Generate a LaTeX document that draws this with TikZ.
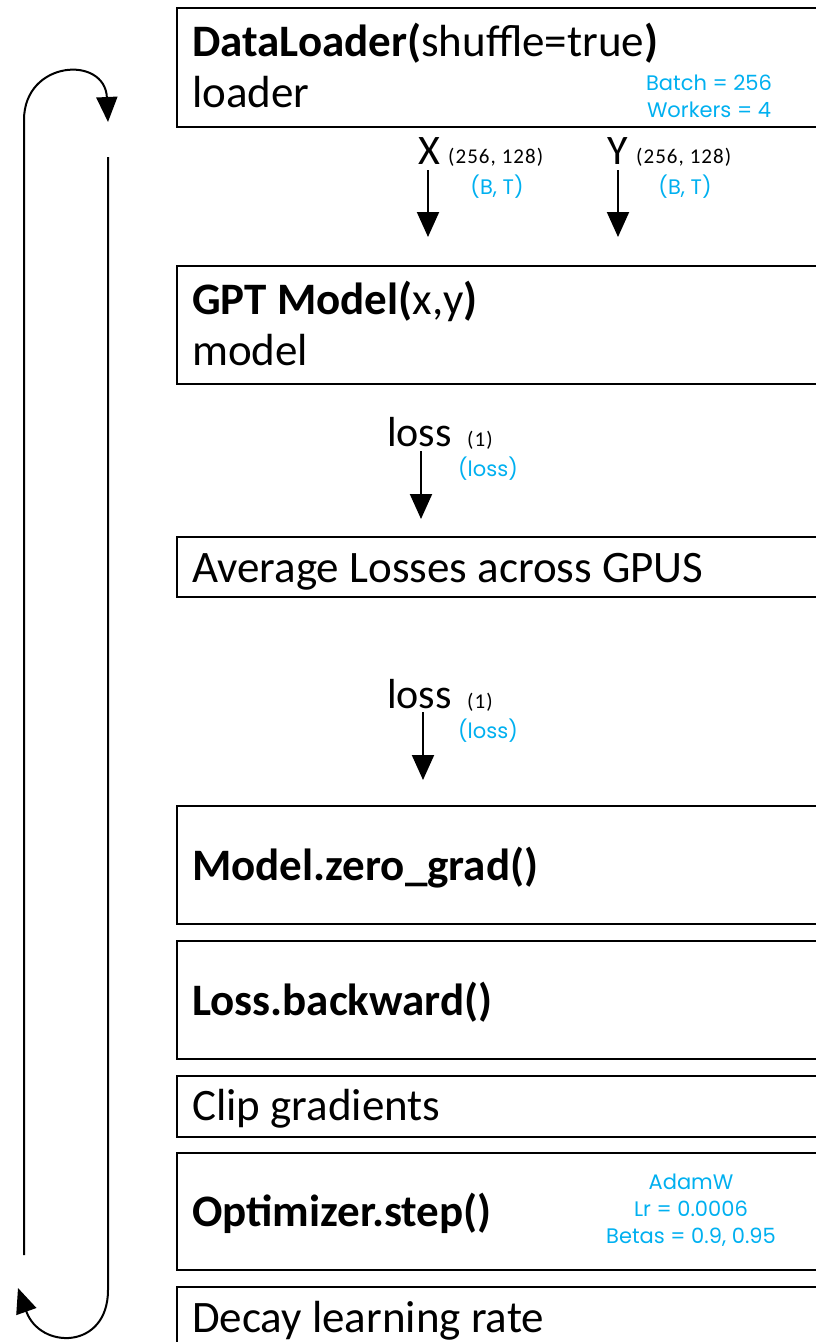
\documentclass[tikz,border=0pt]{standalone}
\usepackage{fontspec}
\setmainfont{Carlito}
\newfontfamily\gothic{Poppins}
\usetikzlibrary{arrows.meta}
\definecolor{hint}{RGB}{0,176,240}
\tikzset{
  box/.style={draw, line width=2.2pt, rectangle, inner sep=0pt, outer sep=0pt,
    anchor=north west, minimum width=700pt},
  big/.style={font=\fontsize{45}{54}\selectfont, inner sep=0pt, anchor=base west},
  lbl/.style={font=\fontsize{42}{50}\selectfont, inner sep=0pt, anchor=base west},
  dims/.style={font=\fontsize{21}{24}\selectfont\addfontfeature{LetterSpace=5}, inner sep=0pt, anchor=base west},
  note/.style={font=\gothic\fontsize{21}{27}\selectfont, text=hint, inner sep=0pt, align=center},
  flow/.style={line width=2pt, -{Triangle[width=22pt,length=25pt]}},
  loop/.style={line width=2pt, -{Triangle[width=21pt,length=25pt]}},
}
\begin{document}
\begin{tikzpicture}[x=1pt,y=-1pt]
\clip (0,0) rectangle (816,1342);
\fill[white] (0,0) rectangle (816,1342);

% stage boxes (they run past the right and bottom edges)
\node[box, minimum height=119pt] (loaderbox) at (177,8) {};
\node[box, minimum height=118pt] (modelbox) at (177,266) {};
\node[box, minimum height=60pt]  (avgbox)    at (177,537) {};
\node[box, minimum height=118pt] (zerobox)   at (177,806) {};
\node[box, minimum height=118pt] (backbox)   at (177,941) {};
\node[box, minimum height=61pt]  (clipbox)   at (177,1076) {};
\node[box, minimum height=117pt] (stepbox)   at (177,1153) {};
\node[box, minimum height=100pt] (decaybox)  at (177,1287) {};

% box texts
\node[big] (loadertitle) at (192,56) {\textbf{DataLoader(}shuffle=true\textbf{)}};
\node[big] (loadername)  at (192,107) {loader};
\node[note] (loadernote) at (709,96) {Batch = 256\\Workers = 4};
\node[big] (modeltitle)  at (192,314) {\textbf{GPT Model(}x,y\textbf{)}};
\node[big] (modelname)   at (192,365) {model};
\node[big] (avgtext)     at (192,582) {Average Losses across GPUS};
\node[big] (zerotext)    at (192,880) {\textbf{Model.zero\_grad()}};
\node[big] (backtext)    at (192,1015) {\textbf{Loss.backward()}};
\node[big] (cliptext)    at (192,1120) {Clip gradients};
\node[big] (steptext)    at (192,1226) {\textbf{Optimizer.step()}};
\node[note] (stepnote)   at (691,1210) {AdamW\\Lr = 0.0006\\Betas = 0.9, 0.95};
\node[big] (decaytext)   at (192,1332) {Decay learning rate};

% X and Y batches
\node[lbl, anchor=base] (xname) at (429,164) {X};
\node[dims] (xdims) at (448,163) {(256, 128)};
\node[note] (xshape) at (497,187) {(B, T)};
\coordinate (xfrom) at (428,170);
\coordinate (xto) at (428,237);
\draw[flow] (xfrom) -- (xto);

\node[lbl, anchor=base] (yname) at (618,164) {Y};
\node[dims] (ydims) at (636,163) {(256, 128)};
\node[note] (yshape) at (685,187) {(B, T)};
\coordinate (yfrom) at (618,170);
\coordinate (yto) at (618,237);
\draw[flow] (yfrom) -- (yto);

% loss out of the model
\node[lbl] (lossa) at (387,446) {loss};
\node[dims] (lossadims) at (467,446) {(1)};
\node[note] (lossashape) at (488,469) {(loss)};
\coordinate (lossafrom) at (421,451);
\coordinate (lossato) at (421,519);
\draw[flow] (lossafrom) -- (lossato);

% averaged loss
\node[lbl] (lossb) at (387,708) {loss};
\node[dims] (lossbdims) at (467,708) {(1)};
\node[note] (lossbshape) at (488,731) {(loss)};
\coordinate (lossbfrom) at (423,712);
\coordinate (lossbto) at (423,780);
\draw[flow] (lossbfrom) -- (lossbto);

% training loop
\coordinate (upstart) at (24,1255);
\coordinate (uptop) at (24,120);
\coordinate (uptip) at (108,122);
\draw[loop] (upstart) -- (uptop) .. controls (24,60) and (105,55) .. (uptip);
\coordinate (downstart) at (108,157);
\coordinate (downbottom) at (108,1290);
\coordinate (downtip) at (18,1288);
\draw[loop] (downstart) -- (downbottom) .. controls (108,1350) and (40,1350) .. (downtip);
\end{tikzpicture}
\end{document}
